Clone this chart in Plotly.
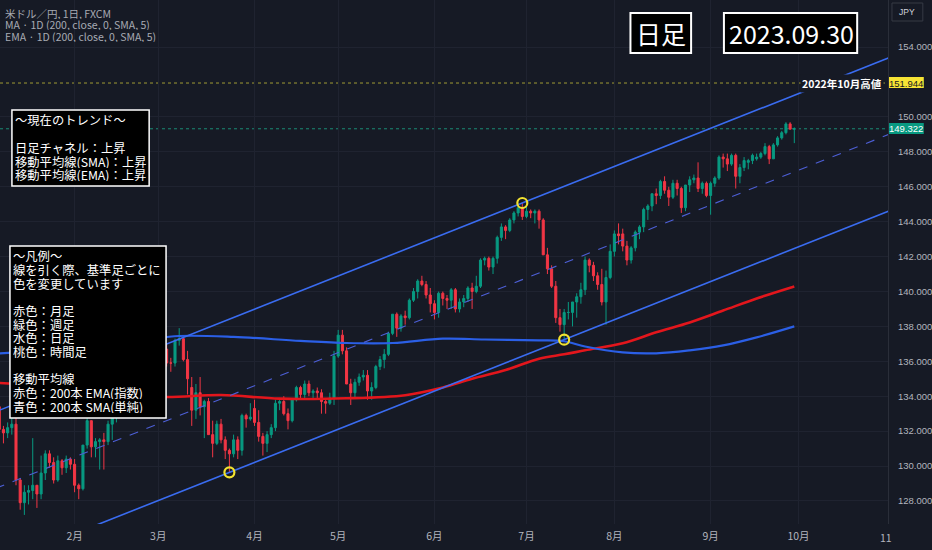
import pandas as pd
import plotly.graph_objects as go

# 米ドル/円 日足 (FXCM)  各行 = (始値, 高値, 安値, 終値)
jan = [(131.0, 132.7, 129.9, 132.4), (132.4, 134.1, 132.2, 133.4), (133.4, 134.8, 132.1, 132.1),
       (132.1, 132.3, 131.3, 131.9), (131.9, 132.5, 131.6, 132.2), (132.2, 132.9, 131.8, 132.4),
       (132.4, 132.9, 128.9, 129.2), (129.2, 129.3, 127.5, 127.9), (127.9, 128.9, 127.2, 128.5),
       (128.5, 128.9, 127.8, 128.6), (128.6, 131.6, 128.1, 128.9), (128.9, 128.9, 127.6, 128.4),
       (128.4, 130.6, 128.1, 129.6), (129.6, 130.9, 129.2, 130.7), (130.7, 130.9, 129.9, 130.2),
       (130.2, 130.5, 129.0, 129.2), (129.2, 130.6, 129.1, 130.3), (130.3, 130.4, 129.5, 129.9),
       (129.9, 130.6, 129.6, 130.4), (130.4, 130.5, 129.8, 130.1)]
feb = [(130.1, 130.4, 128.5, 128.9), (128.9, 129.0, 128.1, 128.7), (128.7, 131.2, 128.6, 131.2),
       (131.2, 132.9, 131.0, 132.6), (132.6, 132.6, 130.5, 131.1), (131.1, 131.6, 130.5, 131.4),
       (131.4, 131.6, 129.8, 131.5), (131.5, 131.9, 129.8, 131.4), (131.4, 132.6, 131.2, 132.4),
       (132.4, 133.3, 131.5, 133.1), (133.1, 134.3, 132.5, 134.1), (134.1, 134.4, 133.5, 133.9),
       (133.9, 135.1, 133.9, 134.2), (134.2, 134.5, 133.9, 134.2), (134.2, 135.0, 134.0, 134.9),
       (134.9, 135.2, 134.5, 134.9), (134.9, 135.1, 134.1, 134.7), (134.7, 136.5, 134.5, 136.4),
       (136.4, 136.9, 135.9, 136.2), (136.2, 136.9, 135.7, 136.2)]
mar = [(136.2, 136.9, 135.3, 136.1), (136.1, 137.1, 135.9, 136.7), (136.7, 137.0, 135.7, 135.9),
       (135.9, 136.2, 135.4, 135.9), (135.9, 137.3, 135.7, 137.2), (137.2, 137.9, 136.9, 137.3),
       (137.3, 137.4, 136.0, 136.1), (136.1, 136.6, 134.1, 135.0), (134.5, 135.1, 132.3, 133.2),
       (133.2, 134.7, 132.7, 134.2), (134.2, 135.1, 132.9, 133.4), (133.4, 133.8, 131.6, 133.7),
       (133.7, 133.9, 131.8, 131.8), (131.8, 132.6, 130.5, 131.3), (131.3, 132.6, 131.2, 132.4),
       (132.4, 132.7, 131.3, 131.5), (131.5, 131.7, 130.4, 130.9), (130.9, 131.0, 129.64, 130.7),
       (130.7, 131.8, 130.5, 131.5), (131.5, 131.7, 130.4, 130.9), (130.9, 133.0, 130.6, 132.9),
       (132.9, 133.0, 132.2, 132.7), (132.7, 133.6, 132.6, 132.8)]
apr = [(133.3, 133.8, 132.3, 132.5), (132.5, 133.2, 131.4, 131.7), (131.7, 131.9, 130.6, 131.3),
       (131.3, 132.0, 130.8, 131.8), (131.8, 132.4, 131.6, 132.2), (132.2, 133.8, 132.0, 133.6),
       (133.6, 133.9, 133.2, 133.7), (133.7, 134.0, 132.9, 133.0), (133.0, 133.3, 132.1, 132.6),
       (132.6, 133.9, 132.5, 133.8), (133.8, 134.6, 133.7, 134.5), (134.5, 134.6, 133.8, 134.1),
       (134.1, 134.9, 133.9, 134.7), (134.7, 134.9, 134.0, 134.2), (134.2, 134.4, 133.8, 134.3),
       (134.3, 134.5, 133.9, 134.2), (134.2, 134.4, 133.0, 133.7), (133.7, 133.9, 133.0, 133.6),
       (133.6, 134.2, 133.5, 133.9), (133.9, 136.6, 133.5, 136.3)]
may = [(136.3, 137.8, 136.2, 137.5), (137.5, 137.8, 136.4, 136.6), (136.6, 136.8, 134.7, 134.7),
       (134.7, 135.0, 133.5, 134.2), (134.2, 135.0, 133.9, 134.8), (134.8, 135.3, 134.6, 135.1),
       (135.1, 135.5, 134.9, 135.2), (135.2, 135.5, 133.8, 134.3), (134.3, 134.8, 133.8, 134.5),
       (134.5, 135.8, 134.4, 135.7), (135.7, 136.3, 135.5, 136.1), (136.1, 136.7, 135.6, 136.4),
       (136.4, 137.7, 136.3, 137.6), (137.6, 138.7, 137.5, 138.7), (138.7, 138.8, 137.4, 137.9),
       (137.9, 138.7, 137.7, 138.6), (138.6, 138.9, 138.1, 138.5), (138.5, 139.6, 138.4, 139.5),
       (139.5, 140.2, 139.4, 140.0), (140.0, 140.7, 139.6, 140.6), (140.6, 140.9, 140.3, 140.4),
       (140.4, 140.6, 139.6, 139.8), (139.8, 140.2, 138.8, 139.3)]
jun = [(139.3, 139.5, 138.4, 138.8), (138.8, 140.0, 138.5, 139.9), (139.9, 140.0, 139.2, 139.6),
       (139.6, 139.8, 139.0, 139.5), (139.5, 140.2, 139.0, 140.1), (140.1, 140.2, 138.8, 139.0),
       (139.0, 139.6, 138.8, 139.4), (139.4, 139.8, 139.1, 139.6), (139.6, 140.3, 139.4, 140.2),
       (140.2, 140.5, 139.0, 140.0), (140.0, 140.9, 139.9, 140.3), (140.3, 141.9, 140.2, 141.8),
       (141.8, 142.0, 141.5, 141.9), (141.9, 142.0, 141.2, 141.4), (141.4, 142.0, 141.0, 141.9),
       (141.9, 143.2, 141.6, 143.1), (143.1, 143.9, 142.9, 143.7), (143.7, 143.8, 143.0, 143.5),
       (143.5, 144.2, 143.4, 144.1), (144.1, 144.6, 143.9, 144.5), (144.5, 144.9, 144.3, 144.8),
       (144.8, 145.07, 144.1, 144.3)]
jul = [(144.3, 144.9, 144.2, 144.6), (144.6, 144.7, 144.2, 144.5), (144.5, 144.7, 143.9, 144.6),
       (144.6, 144.7, 143.6, 144.1), (144.1, 144.2, 142.1, 142.1), (142.1, 142.5, 141.0, 141.3),
       (141.3, 141.5, 140.2, 140.3), (140.3, 140.6, 138.2, 138.5), (138.5, 139.0, 137.7, 138.1),
       (138.1, 139.0, 137.24, 138.8), (138.8, 139.4, 138.4, 138.8), (138.8, 139.4, 138.0, 139.4),
       (139.4, 139.9, 138.5, 139.7), (139.7, 140.5, 139.3, 140.1), (140.1, 142.0, 139.8, 141.8),
       (141.8, 141.9, 141.1, 141.5), (141.5, 141.7, 140.6, 140.9), (140.9, 141.1, 140.1, 140.4),
       (140.4, 141.3, 139.2, 139.4), (139.4, 141.2, 138.1, 140.8), (140.8, 142.7, 140.7, 142.3)]
aug = [(142.3, 143.5, 142.0, 143.3), (143.3, 143.9, 142.7, 143.2), (143.3, 143.6, 142.3, 142.6),
       (142.6, 142.9, 141.5, 141.8), (141.8, 142.6, 141.6, 142.5), (142.5, 143.5, 142.3, 143.4),
       (143.4, 143.8, 143.0, 143.7), (143.7, 144.8, 143.4, 144.7), (144.7, 145.0, 144.1, 144.9),
       (144.9, 145.6, 144.6, 145.6), (145.6, 145.9, 145.0, 145.5), (145.5, 146.4, 145.3, 146.3),
       (146.3, 146.6, 145.6, 145.8), (145.8, 146.0, 144.9, 145.4), (145.4, 146.4, 145.3, 146.2),
       (146.2, 146.4, 145.5, 145.9), (145.9, 146.0, 144.5, 144.8), (144.8, 146.1, 144.6, 146.1),
       (146.1, 146.6, 145.7, 146.4), (146.4, 146.7, 146.2, 146.5), (146.5, 147.4, 145.7, 145.9),
       (145.9, 146.3, 145.6, 146.2), (146.2, 146.3, 145.4, 145.5)]
sep = [(145.5, 146.3, 144.4, 146.2), (146.2, 146.6, 146.0, 146.5), (146.5, 147.8, 146.4, 147.7),
       (147.7, 147.9, 147.1, 147.6), (147.6, 147.9, 146.9, 147.3), (147.3, 147.9, 147.2, 147.8),
       (147.8, 147.9, 145.9, 146.6), (146.6, 147.3, 146.2, 147.1), (147.1, 147.7, 146.9, 147.5),
       (147.4, 147.6, 147.0, 147.5), (147.5, 147.9, 147.3, 147.8), (147.6, 147.9, 147.5, 147.7),
       (147.7, 148.0, 147.6, 147.9), (147.9, 148.5, 147.8, 148.3), (148.3, 148.4, 147.3, 147.6),
       (147.6, 148.5, 147.6, 148.4), (148.4, 148.9, 148.3, 148.8), (148.8, 149.2, 148.7, 149.1),
       (149.1, 149.7, 149.0, 149.6), (149.6, 149.7, 149.3, 149.3), (149.3, 149.4, 148.5, 149.322)]

# 200本 SMA / EMA (チャートから読み取り)
sma_dates = ["2023-01-06", "2023-01-20", "2023-02-14", "2023-02-27", "2023-03-08", "2023-03-27",
             "2023-04-18", "2023-05-03", "2023-05-18", "2023-06-05", "2023-06-19", "2023-07-06",
             "2023-07-14", "2023-07-21", "2023-08-03", "2023-08-15", "2023-08-25", "2023-09-06",
             "2023-09-18", "2023-09-29"]
sma_vals = [136.45, 136.6, 136.9, 137.25, 137.45, 137.4, 137.17, 137.05, 137.05, 137.3, 137.25,
            137.2, 137.15, 136.85, 136.51, 136.46, 136.63, 136.91, 137.37, 138.0]
ema_dates = ["2023-01-06", "2023-01-25", "2023-02-14", "2023-03-02", "2023-03-22", "2023-04-11",
             "2023-05-03", "2023-05-23", "2023-06-05", "2023-06-14", "2023-06-26", "2023-07-06",
             "2023-07-14", "2023-07-21", "2023-08-03", "2023-08-15", "2023-08-25", "2023-09-06",
             "2023-09-18", "2023-09-29"]
ema_vals = [134.76, 134.55, 134.25, 133.96, 134.07, 133.86, 133.88, 134.06, 134.5, 135.0, 135.5,
            136.15, 136.4, 136.63, 137.03, 137.66, 138.23, 138.91, 139.6, 140.29]

# 日足チャネルの基準点 (安値2点 + 高値1点)
low_pts = [("2023-03-24", 129.64), ("2023-07-14", 137.24)]
high_pt = ("2023-06-30", 145.07)

high_2022 = 151.944
last_price = 149.322

price_ticks = [128, 130, 132, 134, 136, 138, 140, 142, 144, 146, 148, 150, 154]  # 152 は高値ラベルの下
tick_dates = ["2023-02-01", "2023-03-01", "2023-04-03", "2023-05-01", "2023-06-01",
              "2023-07-03", "2023-08-01", "2023-09-01", "2023-10-02"]
tick_labels = ["2月", "3月", "4月", "5月", "6月", "7月", "8月", "9月", "10月"]
edge_label = "11"   # 右端で切れている 11月 の目盛り

trend_lines = ["～現在のトレンド～", "", "日足チャネル：上昇", "移動平均線(SMA)：上昇", "移動平均線(EMA)：上昇"]
legend_lines = ["～凡例～", "線を引く際、基準足ごとに", "色を変更しています", "",
                "赤色：月足", "緑色：週足", "水色：日足", "桃色：時間足", "",
                "移動平均線", "赤色：200本 EMA(指数)", "青色：200本 SMA(単純)"]
info_lines = ["米ドル／円, 1日, FXCM", "MA · 1D (200, close, 0, SMA, 5)", "EMA · 1D (200, close, 0, SMA, 5)"]

# ---- bar index axis (TradingView style, weekends skipped) ----
ohlc = [r for m in [jan, feb, mar, apr, may, jun, jul, aug, sep] for r in m]
dates = pd.bdate_range("2023-01-04", "2023-09-29")
assert len(dates) == len(ohlc)
axis_dates = pd.bdate_range("2023-01-04", "2023-11-10")
pos = {d.strftime("%Y-%m-%d"): i for i, d in enumerate(axis_dates)}
xs = list(range(len(dates)))

BG = "#161a25"
GRID = "#1f2330"
FONT = "Noto Sans CJK JP"
PW, PH = 893, 524
BAR_PX = 4.208
x_left = pos["2023-02-01"] - 75 / BAR_PX
x_right = x_left + PW / BAR_PX


def fx(p):
    return p / PW


def fy(p):
    return 1 - p / PH


fig = go.Figure()
fig.add_trace(go.Candlestick(
    x=xs, open=[r[0] for r in ohlc], high=[r[1] for r in ohlc],
    low=[r[2] for r in ohlc], close=[r[3] for r in ohlc],
    increasing=dict(line=dict(color="#089981", width=1), fillcolor="#089981"),
    decreasing=dict(line=dict(color="#f23645", width=1), fillcolor="#f23645"),
    whiskerwidth=0, showlegend=False))

fig.add_trace(go.Scatter(x=[pos[d] for d in ema_dates], y=ema_vals, mode="lines",
                         line=dict(color="#e3161c", width=2.6, shape="spline"), showlegend=False))
fig.add_trace(go.Scatter(x=[pos[d] for d in sma_dates], y=sma_vals, mode="lines",
                         line=dict(color="#2b5fe6", width=2.2, shape="spline"), showlegend=False))

# channel
(d1, p1), (d2, p2) = low_pts
slope = (p2 - p1) / (pos[d2] - pos[d1])
hx, hp = pos[high_pt[0]], high_pt[1]
edge = [x_left - 1, x_right + 1]
lower = [p1 + slope * (x - pos[d1]) for x in edge]
upper = [hp + slope * (x - hx) for x in edge]
mid = [(a + b) / 2 for a, b in zip(lower, upper)]
for yy in (upper, lower):
    fig.add_trace(go.Scatter(x=edge, y=yy, mode="lines", line=dict(color="#3a6cf0", width=1.6),
                             showlegend=False))
fig.add_trace(go.Scatter(x=edge, y=mid, mode="lines",
                         line=dict(color="#4d5fd6", width=1.1, dash="dash"), showlegend=False))

# touch points
fig.add_trace(go.Scatter(x=[pos[d1], hx, pos[d2]], y=[p1, hp, p2], mode="markers",
                         marker=dict(symbol="circle-open", size=10, color="#f2e230",
                                     line=dict(width=2.2, color="#f2e230")),
                         showlegend=False))

shapes = []
annots = []

# horizontal price lines
shapes.append(dict(type="line", xref="paper", x0=0, x1=1, yref="y", y0=high_2022, y1=high_2022,
                   line=dict(color="#a19b35", width=1, dash="dot"), layer="below"))
shapes.append(dict(type="line", xref="paper", x0=0, x1=1, yref="y", y0=last_price, y1=last_price,
                   line=dict(color="#1b8a76", width=1, dash="dot"), layer="below"))


def box(x0, y0, x1, y1, width=1.5, fill="#000000", color="#ffffff"):
    shapes.append(dict(type="rect", xref="paper", yref="paper", x0=fx(x0), x1=fx(x1),
                       y0=fy(y0), y1=fy(y1), fillcolor=fill, line=dict(color=color, width=width),
                       layer="above"))


def text(x, y, s, size=13, color="#ffffff", anchor="left", family=FONT, h=None):
    a = dict(xref="paper", yref="paper", x=fx(x), y=fy(y), text=s, showarrow=False,
             xanchor=anchor, yanchor="middle", font=dict(size=size, color=color, family=family))
    if h:
        a.update(height=h, borderpad=0)
    annots.append(a)


# info at top-left
for i, s in enumerate(info_lines):
    text(4, 13 + i * 11.7, s, size=10.5, color="#a7aab3", h=11)

# trend box
box(12, 110, 150, 186)
for i, s in enumerate(trend_lines):
    if s:
        text(14, 120 + i * 13.7, s, size=12.3, h=13)

# legend box
box(10, 246, 167, 418)
for i, s in enumerate(legend_lines):
    if s:
        text(12, 256 + i * 13.65, s, size=12.3, h=13)

# big boxes
box(634, 13, 695, 53, width=2)
text(664.5, 33, "日足", size=25, anchor="center")
box(728, 13, 862, 53, width=2)
text(795.5, 33, "2023.09.30", size=25, anchor="center")

# 2022 high label + badges
annots.append(dict(xref="paper", yref="y", x=fx(889), y=high_2022, text="<b>2022年10月高値</b>",
                   showarrow=False, xanchor="right", yanchor="middle", bgcolor=BG, borderpad=1,
                   font=dict(size=10.5, color="#ffffff", family=FONT)))
box(894, 77, 929, 88, width=0, fill="#f7e435", color="#f7e435")
annots.append(dict(xref="paper", yref="y", x=fx(911.5), y=high_2022, text="%.3f" % high_2022,
                   showarrow=False, xanchor="center", yanchor="middle",
                   font=dict(size=9.5, color="#131722", family="Liberation Sans")))
box(894, 123, 929, 134, width=0, fill="#089981", color="#089981")
annots.append(dict(xref="paper", yref="y", x=fx(911.5), y=last_price, text="%.3f" % last_price,
                   showarrow=False, xanchor="center", yanchor="middle",
                   font=dict(size=9.5, color="#ffffff", family="Liberation Sans")))

# JPY button
shapes.append(dict(type="rect", xref="paper", yref="paper", x0=fx(897), x1=fx(928), y0=fy(3), y1=fy(21),
                   fillcolor=BG, line=dict(color="#363a45", width=1), layer="above"))
text(912.5, 12, "JPY", size=8.5, color="#d1d4dc", anchor="center", family="Liberation Sans")

# time axis label at the right edge
text(891, 537, edge_label, size=10.5, color="#b2b5be", anchor="center")

fig.update_layout(
    width=932, height=550, autosize=False,
    margin=dict(l=0, r=932 - PW, t=0, b=550 - PH),
    paper_bgcolor=BG, plot_bgcolor=BG,
    shapes=shapes, annotations=annots, showlegend=False,
    hovermode=False,
    xaxis=dict(range=[x_left, x_right], rangeslider=dict(visible=False),
               tickvals=[pos[d] for d in tick_dates], ticktext=tick_labels,
               showgrid=True, gridcolor=GRID, gridwidth=1, zeroline=False,
               tickfont=dict(size=10.5, color="#b2b5be", family=FONT), ticks="", ticklabelstandoff=4),
    yaxis=dict(range=[126.68, 156.70], side="right", tickvals=price_ticks,
               tickformat=".3f", showgrid=True, gridcolor=GRID, gridwidth=1, zeroline=False,
               tickfont=dict(size=9.5, color="#b2b5be", family="Liberation Sans"), ticks="",
               ticklabelstandoff=7, showline=True, linecolor="#2a2e39"),
)

# page body margin off so the 932x550 figure fills the window
fig.write_html("out.html", config={"displayModeBar": False},
               post_script="document.body.style.margin='0';document.body.style.background='%s';" % BG)
